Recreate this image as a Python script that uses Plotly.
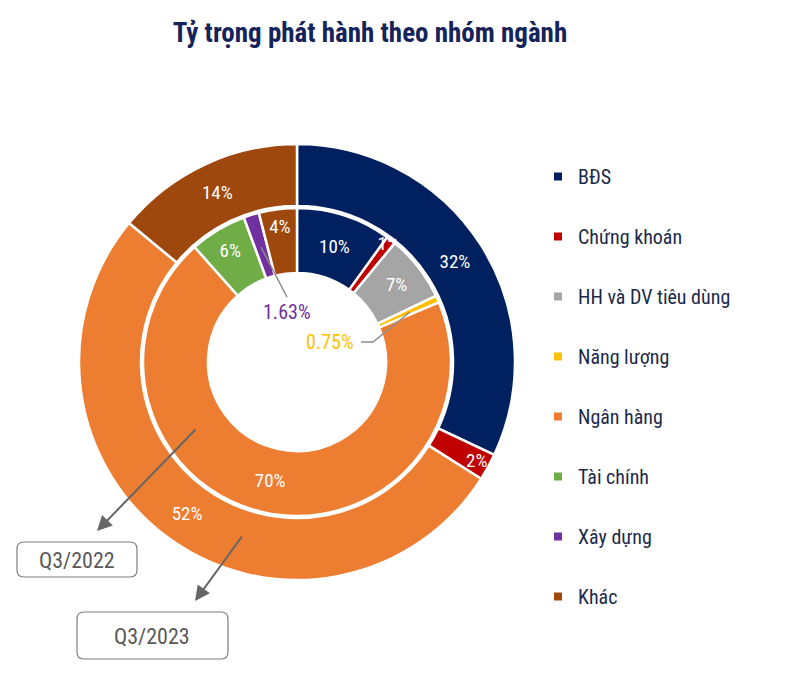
import plotly.graph_objects as go

# ---------------- data ----------------
categories = ["BĐS", "Chứng khoán", "HH và DV tiêu dùng", "Năng lượng",
              "Ngân hàng", "Tài chính", "Xây dựng", "Khác"]
q3_2022 = [10, 1, 7, 0.75, 70, 6, 1.63, 4]      # inner ring
q3_2023 = [32, 2, 0, 0, 52, 0, 0, 14]           # outer ring
period_labels = ["Q3/2022", "Q3/2023"]
outside_labelled = ["Năng lượng", "Xây dựng"]   # inner slices labelled in the hole

colors = ["#002060", "#C00000", "#A5A5A5", "#FFC000",
          "#ED7D31", "#70AD47", "#7030A0", "#9E480E"]
cmap = dict(zip(categories, colors))

# ---------------- layout helpers ----------------
W, H = 800, 673
def px(x): return x / W
def py(y): return 1 - y / H

cx, cy = 297, 362
R_OUT, HOLE_OUT = 218, 156
R_IN, HOLE_IN = 154, 89

COND = "Roboto Condensed, Liberation Sans Narrow, Arial Narrow, Roboto, sans-serif"

fig = go.Figure()

# outer ring (Q3/2023) – only non-zero slices
o_lab = [c for c, v in zip(categories, q3_2023) if v > 0]
o_val = [v for v in q3_2023 if v > 0]
fig.add_trace(go.Pie(
    labels=o_lab, values=o_val, sort=False, direction="clockwise", rotation=0,
    hole=HOLE_OUT / R_OUT,
    domain=dict(x=[px(cx - R_OUT), px(cx + R_OUT)], y=[py(cy + R_OUT), py(cy - R_OUT)]),
    marker=dict(colors=[cmap[c] for c in o_lab], line=dict(color="white", width=2.5)),
    text=[f"{v:g}%" for v in o_val], textinfo="text", textposition="inside",
    insidetextorientation="horizontal",
    textfont=dict(family=COND, size=19, color="white"),
    showlegend=False, hoverinfo="skip", name="Q3/2023",
))

# inner ring (Q3/2022)
fig.add_trace(go.Pie(
    labels=categories, values=q3_2022, sort=False, direction="clockwise", rotation=0,
    hole=HOLE_IN / R_IN,
    domain=dict(x=[px(cx - R_IN), px(cx + R_IN)], y=[py(cy + R_IN), py(cy - R_IN)]),
    marker=dict(colors=colors, line=dict(color="white", width=2.5)),
    text=["" if c in outside_labelled else f"{v:g}%" for c, v in zip(categories, q3_2022)],
    textinfo="text", textposition="inside", insidetextorientation="horizontal",
    textfont=dict(family=COND, size=19, color="white"),
    showlegend=False, hoverinfo="skip", name="Q3/2022",
))

# legend via dummy markers
for i, (c, col) in enumerate(zip(categories, colors)):
    fig.add_trace(go.Scatter(
        x=[None], y=[None], mode="markers", name=c, legendgroup=f"g{i}",
        marker=dict(symbol="square", size=8, color=col), hoverinfo="skip",
    ))

# labels for small inner slices
idx_nl = categories.index("Năng lượng")
idx_xd = categories.index("Xây dựng")
annotations = [
    dict(x=px(287), y=py(312), xref="paper", yref="paper", showarrow=False,
         xanchor="center", yanchor="middle",
         text=f"{q3_2022[idx_xd]:g}%", font=dict(family=COND, size=20, color=colors[idx_xd])),
    dict(x=px(330), y=py(342), xref="paper", yref="paper", showarrow=False,
         xanchor="center", yanchor="middle",
         text=f"{q3_2022[idx_nl]:g}%", font=dict(family=COND, size=20, color=colors[idx_nl])),
    # period arrows
    dict(x=px(97), y=py(531), xref="paper", yref="paper", text="", showarrow=True,
         ax=100, ay=-103, arrowhead=2, arrowsize=1.5, arrowwidth=2, arrowcolor="#666666"),
    dict(x=px(195), y=py(601), xref="paper", yref="paper", text="", showarrow=True,
         ax=48, ay=-66, arrowhead=2, arrowsize=1.5, arrowwidth=2, arrowcolor="#666666"),
    dict(x=px(77), y=py(560), xref="paper", yref="paper", showarrow=False,
         xanchor="center", yanchor="middle",
         text=period_labels[0], font=dict(family=COND, size=22, color="#595959")),
    dict(x=px(152), y=py(636), xref="paper", yref="paper", showarrow=False,
         xanchor="center", yanchor="middle",
         text=period_labels[1], font=dict(family=COND, size=22, color="#595959")),
]

def rrect(x0, y0, x1, y1, r=7):
    pts = [
        f"M{px(x0 + r)},{py(y0)}", f"L{px(x1 - r)},{py(y0)}",
        f"Q{px(x1)},{py(y0)} {px(x1)},{py(y0 + r)}", f"L{px(x1)},{py(y1 - r)}",
        f"Q{px(x1)},{py(y1)} {px(x1 - r)},{py(y1)}", f"L{px(x0 + r)},{py(y1)}",
        f"Q{px(x0)},{py(y1)} {px(x0)},{py(y1 - r)}", f"L{px(x0)},{py(y0 + r)}",
        f"Q{px(x0)},{py(y0)} {px(x0 + r)},{py(y0)}", "Z",
    ]
    return " ".join(pts)

shapes = [
    dict(type="path", xref="paper", yref="paper", path=rrect(17, 542, 137, 577),
         line=dict(color="#7f7f7f", width=1.2), fillcolor="rgba(0,0,0,0)"),
    dict(type="path", xref="paper", yref="paper", path=rrect(77, 612, 228, 659),
         line=dict(color="#7f7f7f", width=1.2), fillcolor="rgba(0,0,0,0)"),
    # leader lines
    dict(type="path", xref="paper", yref="paper",
         path=f"M{px(261)},{py(247)} L{px(287)},{py(297)}",
         line=dict(color="#8c8c8c", width=1.5)),
    dict(type="path", xref="paper", yref="paper",
         path=f"M{px(361)},{py(342)} L{px(373)},{py(342)} L{px(410)},{py(312)}",
         line=dict(color="#8c8c8c", width=1.5)),
]

fig.update_layout(
    width=W, height=H,
    margin=dict(l=0, r=0, t=0, b=0),
    paper_bgcolor="white", plot_bgcolor="white",
    title=dict(text="<b>Tỷ trọng phát hành theo nhóm ngành</b>", x=px(370), y=py(33),
               xanchor="center", yanchor="middle",
               font=dict(family=COND, size=27, color="#14245a")),
    xaxis=dict(visible=False), yaxis=dict(visible=False),
    legend=dict(x=px(538), y=py(157), xanchor="left", yanchor="top",
                traceorder="grouped", tracegroupgap=31,
                font=dict(family=COND, size=20, color="#1c2a4a"),
                bgcolor="rgba(0,0,0,0)"),
    uniformtext=dict(minsize=19, mode="show"),
    annotations=annotations, shapes=shapes,
)

fig.write_html("out.html", config={"displayModeBar": False},
               post_script="document.body.style.margin='0';")
